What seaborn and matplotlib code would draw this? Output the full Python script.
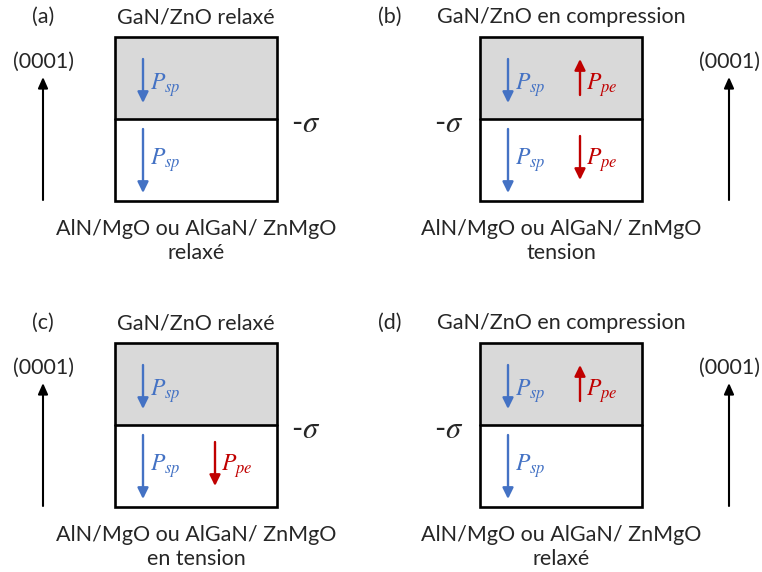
import numpy as np
import pandas as pd
import seaborn as sns
import matplotlib
matplotlib.use("Agg")
import matplotlib.pyplot as plt
from matplotlib.patches import Rectangle

# ---- diagram content ----
panel_tags = ["(a)", "(b)", "(c)", "(d)"]
top_layers = ["GaN/ZnO relaxé", "GaN/ZnO en compression",
              "GaN/ZnO relaxé", "GaN/ZnO en compression"]
bottom_layers = ["AlN/MgO ou AlGaN/ ZnMgO\nrelaxé",
                 "AlN/MgO ou AlGaN/ ZnMgO\ntension",
                 "AlN/MgO ou AlGaN/ ZnMgO\nen tension",
                 "AlN/MgO ou AlGaN/ ZnMgO\nrelaxé"]
# piezo polarisation direction per layer: +1 up, -1 down, 0 none
top_pe = [0, 1, 0, 1]
bottom_pe = [0, -1, -1, 0]
axis_label = "(0001)"
charge_label = r"-$\sigma$"

sns.set_style("white")
plt.rcParams["font.family"] = ["Lato", "DejaVu Sans"]
plt.rcParams["mathtext.fontset"] = "stix"

BLUE = "#4472c4"
RED = "#c00000"
GRAY = "#d9d9d9"
FS = 15.5

fig = plt.figure(figsize=(7.62, 5.72), dpi=100)
ax = fig.add_axes([0, 0, 1, 1])
ax.set_xlim(0, 762)
ax.set_ylim(572, 0)
ax.axis("off")

# box origins (left, top) for each panel, in a 2x2 grid
col_x = [115, 480]
row_y = [37, 343]
W, H, MID = 162, 164, 82


def varrow(x, y0, y1, color, lw=1.7, hw=3.2, hl=6.5):
    ax.annotate("", xy=(x, y1), xytext=(x, y0),
                arrowprops=dict(arrowstyle=f"-|>,head_width={hw},head_length={hl}",
                                color=color, lw=lw, shrinkA=0, shrinkB=0,
                                mutation_scale=1))


for i, tag in enumerate(panel_tags):
    c, r = i % 2, i // 2
    bx, by = col_x[c], row_y[r]

    # layers
    ax.add_patch(Rectangle((bx, by), W, MID, facecolor=GRAY, edgecolor="none"))
    ax.add_patch(Rectangle((bx, by), W, H, facecolor="none", edgecolor="black", lw=1.9))
    ax.plot([bx, bx + W], [by + MID, by + MID], color="black", lw=1.9)

    # texts above / below
    ax.text(bx + W / 2, by - 20, top_layers[i], ha="center", va="center", fontsize=FS)
    ax.text(bx + W / 2, by + 204, bottom_layers[i], ha="center", va="center",
            fontsize=FS, linespacing=1.25)
    tag_x = bx - 72 if c == 0 else bx - 90
    ax.text(tag_x, by - 20, tag, ha="center", va="center", fontsize=FS)

    # growth axis arrow
    gx = bx - 72 if c == 0 else bx + 249
    ax.text(gx, by + 25, axis_label, ha="center", va="center", fontsize=FS)
    varrow(gx, by + 163, by + 40, "black", lw=1.5, hw=2.9, hl=6.5)

    # interface charge
    sx = bx + 191 if c == 0 else bx - 31
    ax.text(sx, by + 86, charge_label, ha="center", va="center", fontsize=22)

    # spontaneous polarisation
    px = bx + 28
    varrow(px, by + 22, by + 66, BLUE)
    varrow(px, by + 92, by + 156, BLUE)
    ax.text(px + 7, by + 48, r"$P_{sp}$", color=BLUE, ha="left", va="center", fontsize=17)
    ax.text(px + 7, by + 123, r"$P_{sp}$", color=BLUE, ha="left", va="center", fontsize=17)

    # piezoelectric polarisation
    qx = bx + 100
    if top_pe[i] != 0:
        y0, y1 = (by + 58, by + 22) if top_pe[i] > 0 else (by + 22, by + 58)
        varrow(qx, y0, y1, RED)
        ax.text(qx + 6, by + 48, r"$P_{pe}$", color=RED, ha="left", va="center", fontsize=17)
    if bottom_pe[i] != 0:
        y0, y1 = (by + 143, by + 99) if bottom_pe[i] > 0 else (by + 99, by + 143)
        varrow(qx, y0, y1, RED)
        ax.text(qx + 6, by + 123, r"$P_{pe}$", color=RED, ha="left", va="center", fontsize=17)

fig.savefig("out.png", dpi=100)
